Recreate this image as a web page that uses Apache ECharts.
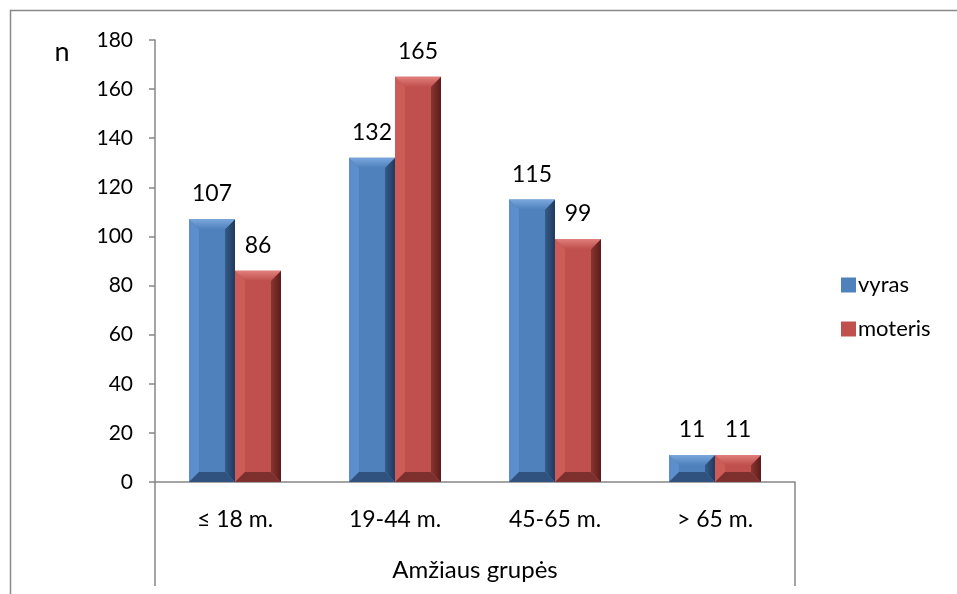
<!DOCTYPE html>
<html>
<head>
<meta charset="utf-8">
<script src="https://cdn.jsdelivr.net/npm/echarts@6/dist/echarts.min.js"></script>
<style>
  html, body { margin: 0; padding: 0; background: #fff; }
  #chart { width: 957px; height: 594px; }
</style>
</head>
<body>
<div id="chart"></div>
<script>
// Age groups and counts by sex
const categories = ['≤ 18 m.', '19-44 m.', '45-65 m.', '> 65 m.'];
const vyras = [107, 132, 115, 11];
const moteris = [86, 165, 99, 11];
const yTicks = { min: 0, max: 180, interval: 20 };

const FONT = 'Lato, "Open Sans", sans-serif';
const BAR_W = 46;

// Bevelled bar palettes
const palettes = {
  vyras:   { face: '#4F81BD', top: '#7aa6dc', left: '#5b8ecb', right: '#1f3a5c', rightMid: '#355b88', bottom: '#2f527e' },
  moteris: { face: '#C0504D', top: '#e07f7c', left: '#cd5c59', right: '#5a1c1a', rightMid: '#8a3532', bottom: '#7e302e' }
};

function bevelBar(pal, offset) {
  return function (params, api) {
    const v = api.value(1);
    const base = api.coord([api.value(0), 0]);
    const top = api.coord([api.value(0), v]);
    const x0 = top[0] + offset - BAR_W / 2;
    const x1 = x0 + BAR_W;
    const y0 = top[1];
    const y1 = base[1];
    const h = y1 - y0;
    const b = Math.min(10, h / 2);
    const children = [
      { type: 'rect', shape: { x: x0, y: y0, width: BAR_W, height: h }, style: { fill: pal.face } },
      { type: 'polygon', shape: { points: [[x0, y0], [x0 + b, y0 + b], [x0 + b, y1 - b], [x0, y1]] }, style: { fill: pal.left } },
      { type: 'polygon', shape: { points: [[x1, y0], [x1, y1], [x1 - b, y1 - b], [x1 - b, y0 + b]] },
        style: { fill: new echarts.graphic.LinearGradient(0, 0, 1, 0, [{ offset: 0, color: pal.rightMid }, { offset: 1, color: pal.right }]) } },
      { type: 'polygon', shape: { points: [[x0, y1], [x1, y1], [x1 - b, y1 - b], [x0 + b, y1 - b]] }, style: { fill: pal.bottom } },
      { type: 'polygon', shape: { points: [[x0, y0], [x1, y0], [x1 - b, y0 + b], [x0 + b, y0 + b]] },
        style: { fill: new echarts.graphic.LinearGradient(0, 0, 0, 1, [{ offset: 0, color: pal.top }, { offset: 1, color: pal.face }]) } },
      { type: 'text', style: { text: String(v), x: (x0 + x1) / 2, y: y0 - 14, align: 'center', verticalAlign: 'bottom',
          fill: '#000', font: '23px ' + FONT } }
    ];
    return { type: 'group', children: children };
  };
}

const chart = echarts.init(document.getElementById('chart'), null, { renderer: 'canvas' });

const gridLeft = 155, gridTop = 40, gridRight = 957 - 795, gridBottom = 594 - 482;

chart.setOption({
  animation: false,
  textStyle: { fontFamily: FONT },
  grid: { left: gridLeft, top: gridTop, right: gridRight, bottom: gridBottom, containLabel: false },
  legend: {
    orient: 'vertical', left: 836, top: 269, itemGap: 22,
    itemWidth: 15, itemHeight: 15, icon: 'rect',
    textStyle: { fontSize: 22, color: '#000', fontFamily: FONT, padding: [0, 0, 0, -3] },
    data: ['vyras', 'moteris']
  },
  xAxis: {
    type: 'category', data: categories,
    name: 'Amžiaus grupės', nameLocation: 'middle', nameGap: 76,
    nameTextStyle: { fontSize: 24, color: '#000', fontFamily: FONT },
    axisLine: { lineStyle: { color: '#868686', width: 1.5 } },
    axisTick: { show: false },
    axisLabel: { fontSize: 23, color: '#000', margin: 26, fontFamily: FONT }
  },
  yAxis: {
    type: 'value', min: yTicks.min, max: yTicks.max, interval: yTicks.interval,
    name: 'n', nameLocation: 'end', nameGap: 0,
    nameTextStyle: { fontSize: 27, color: '#000', fontFamily: FONT, align: 'center', padding: [0, 0, -26, -186] },
    axisLine: { show: true, lineStyle: { color: '#868686', width: 1.5 } },
    axisTick: { show: true, length: 6, lineStyle: { color: '#868686', width: 1.5 } },
    axisLabel: { fontSize: 21, color: '#000', margin: 22, fontFamily: FONT },
    splitLine: { show: false }
  },
  series: [
    { name: 'vyras', type: 'custom', itemStyle: { color: palettes.vyras.face },
      renderItem: bevelBar(palettes.vyras, -BAR_W / 2),
      data: vyras.map((v, i) => [i, v]), encode: { x: 0, y: 1 } },
    { name: 'moteris', type: 'custom', itemStyle: { color: palettes.moteris.face },
      renderItem: bevelBar(palettes.moteris, BAR_W / 2),
      data: moteris.map((v, i) => [i, v]), encode: { x: 0, y: 1 } }
  ],
  graphic: [
    // outer chart frame
    { type: 'rect', shape: { x: 10.5, y: 10.5, width: 1000, height: 700 }, style: { fill: 'none', stroke: '#898989', lineWidth: 1.5 }, silent: true },
    // category-area side rules below the axis
    { type: 'line', shape: { x1: 155, y1: 482, x2: 155, y2: 586 }, style: { stroke: '#868686', lineWidth: 1.5 }, silent: true },
    { type: 'line', shape: { x1: 795, y1: 482, x2: 795, y2: 586 }, style: { stroke: '#868686', lineWidth: 1.5 }, silent: true }
  ]
});
</script>
</body>
</html>
